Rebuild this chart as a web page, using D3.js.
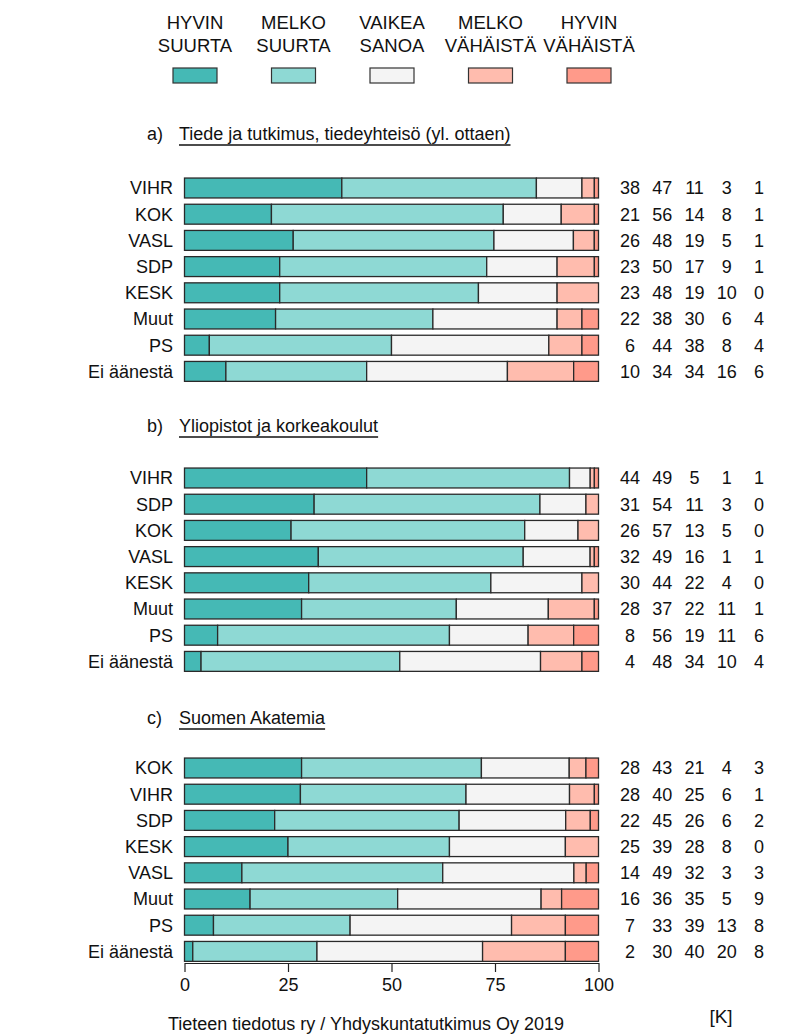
<!DOCTYPE html>
<html>
<head>
<meta charset="utf-8">
<script src="https://cdn.jsdelivr.net/npm/d3@7"></script>
<style>
  body { margin: 0; background: #fff; }
  svg { display: block; font-family: "Liberation Sans", Arial, sans-serif; }
</style>
</head>
<body>
<svg id="chart" width="788" height="1036"></svg>
<script>
const categories = [
  ['HYVIN', 'SUURTA'],
  ['MELKO', 'SUURTA'],
  ['VAIKEA', 'SANOA'],
  ['MELKO', 'VÄHÄISTÄ'],
  ['HYVIN', 'VÄHÄISTÄ'],
];
const colors = ['#45b9b5', '#8ed9d4', '#f4f4f4', '#ffbcae', '#ff9a8a'];

const titleA = 'Tiede ja tutkimus, tiedeyhteisö (yl. ottaen)';
const partiesA = ['VIHR', 'KOK', 'VASL', 'SDP', 'KESK', 'Muut', 'PS', 'Ei äänestä'];
const valuesA = [
  [38, 47, 11, 3, 1],
  [21, 56, 14, 8, 1],
  [26, 48, 19, 5, 1],
  [23, 50, 17, 9, 1],
  [23, 48, 19, 10, 0],
  [22, 38, 30, 6, 4],
  [6, 44, 38, 8, 4],
  [10, 34, 34, 16, 6],
];

const titleB = 'Yliopistot ja korkeakoulut';
const partiesB = ['VIHR', 'SDP', 'KOK', 'VASL', 'KESK', 'Muut', 'PS', 'Ei äänestä'];
const valuesB = [
  [44, 49, 5, 1, 1],
  [31, 54, 11, 3, 0],
  [26, 57, 13, 5, 0],
  [32, 49, 16, 1, 1],
  [30, 44, 22, 4, 0],
  [28, 37, 22, 11, 1],
  [8, 56, 19, 11, 6],
  [4, 48, 34, 10, 4],
];

const titleC = 'Suomen Akatemia';
const partiesC = ['KOK', 'VIHR', 'SDP', 'KESK', 'VASL', 'Muut', 'PS', 'Ei äänestä'];
const valuesC = [
  [28, 43, 21, 4, 3],
  [28, 40, 25, 6, 1],
  [22, 45, 26, 6, 2],
  [25, 39, 28, 8, 0],
  [14, 49, 32, 3, 3],
  [16, 36, 35, 5, 9],
  [7, 33, 39, 13, 8],
  [2, 30, 40, 20, 8],
];

const xTicks = [0, 25, 50, 75, 100];
const source = 'Tieteen tiedotus ry / Yhdyskuntatutkimus Oy 2019';

const svg = d3.select('#chart');
const fontSize = 18;

const x = d3.scaleLinear().domain([0, 100]).range([184.5, 598.5]);
const numX = d3.scalePoint().domain(d3.range(5)).range([630, 759]);

// legend
const legendX = d3.scalePoint().domain(d3.range(5)).range([195, 589]);
const legend = svg.append('g')
  .selectAll('g')
  .data(categories)
  .join('g')
  .attr('transform', (d, i) => `translate(${legendX(i)},0)`);

legend.append('text')
  .attr('text-anchor', 'middle')
  .attr('font-size', 18.5)
  .attr('fill', '#111')
  .selectAll('tspan')
  .data((d) => d)
  .join('tspan')
  .attr('x', 0)
  .attr('y', (d, i) => 29 + i * 23)
  .text((d) => d);

legend.append('rect')
  .attr('x', -22)
  .attr('y', 68)
  .attr('width', 44)
  .attr('height', 15)
  .attr('fill', (d, i) => colors[i])
  .attr('stroke', '#333')
  .attr('stroke-width', 1.2);

function drawSection(letter, title, parties, values, titleY, firstRowY) {
  const g = svg.append('g');

  g.append('text')
    .attr('x', 147)
    .attr('y', titleY)
    .attr('font-size', fontSize)
    .attr('fill', '#111')
    .text(`${letter})`);

  const t = g.append('text')
    .attr('x', 179)
    .attr('y', titleY)
    .attr('font-size', fontSize)
    .attr('fill', '#111')
    .text(title);
  const tw = t.node().getComputedTextLength();
  g.append('line')
    .attr('x1', 179)
    .attr('x2', 179 + tw)
    .attr('y1', titleY + 5)
    .attr('y2', titleY + 5)
    .attr('stroke', '#111')
    .attr('stroke-width', 1.6);

  const y = d3.scaleBand()
    .domain(parties)
    .range([firstRowY - 13.1, firstRowY - 13.1 + 26.2 * parties.length])
    .paddingInner(0.24)
    .paddingOuter(0.12);

  const rows = g.selectAll('g.row')
    .data(parties.map((p, i) => ({ party: p, vals: values[i] })))
    .join('g')
    .attr('class', 'row')
    .attr('transform', (d) => `translate(0,${y(d.party)})`);

  rows.append('text')
    .attr('x', 173)
    .attr('y', y.bandwidth() / 2)
    .attr('dy', '0.36em')
    .attr('text-anchor', 'end')
    .attr('font-size', fontSize)
    .attr('fill', '#111')
    .text((d) => d.party);

  rows.selectAll('rect')
    .data((d) => {
      const total = d3.sum(d.vals);
      let acc = 0;
      return d.vals.map((v, i) => {
        const start = acc;
        acc += (v / total) * 100;
        return { i, start, end: acc };
      });
    })
    .join('rect')
    .attr('x', (d) => x(d.start))
    .attr('width', (d) => x(d.end) - x(d.start))
    .attr('y', 0)
    .attr('height', y.bandwidth())
    .attr('fill', (d) => colors[d.i])
    .attr('stroke', '#2a2a2a')
    .attr('stroke-width', 1.3);

  rows.selectAll('text.num')
    .data((d) => d.vals)
    .join('text')
    .attr('class', 'num')
    .attr('x', (d, i) => numX(i))
    .attr('y', y.bandwidth() / 2)
    .attr('dy', '0.36em')
    .attr('text-anchor', 'middle')
    .attr('font-size', fontSize)
    .attr('fill', '#111')
    .text((d) => d);

  return y;
}

drawSection('a', titleA, partiesA, valuesA, 140, 188);
drawSection('b', titleB, partiesB, valuesB, 432, 478);
drawSection('c', titleC, partiesC, valuesC, 724, 768);

// axis
const axis = svg.append('g')
  .attr('transform', 'translate(0,963)')
  .call(d3.axisBottom(x).tickValues(xTicks).tickSize(9).tickPadding(6).tickSizeOuter(0));
axis.select('.domain').attr('stroke', '#222').attr('stroke-width', 1.2);
axis.selectAll('.tick line').attr('stroke', '#222').attr('stroke-width', 1.2);
axis.selectAll('.tick text')
  .attr('font-size', fontSize)
  .attr('font-family', '"Liberation Sans", Arial, sans-serif')
  .attr('fill', '#111');

// footer
svg.append('text')
  .attr('x', 366)
  .attr('y', 1030)
  .attr('text-anchor', 'middle')
  .attr('font-size', fontSize)
  .attr('fill', '#111')
  .text(source);

svg.append('text')
  .attr('x', 721)
  .attr('y', 1023)
  .attr('text-anchor', 'middle')
  .attr('font-size', 19)
  .attr('fill', '#111')
  .text('[K]');
</script>
</body>
</html>
